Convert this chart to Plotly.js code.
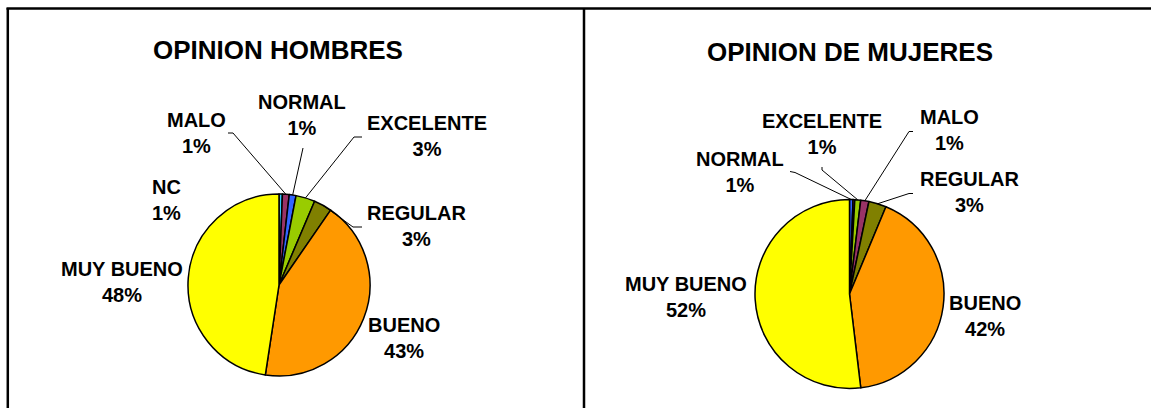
<!DOCTYPE html>
<html>
<head>
<meta charset="utf-8">
<script src="https://cdn.plot.ly/plotly-3.0.1.min.js"></script>
<style>html,body{margin:0;padding:0;background:#fff;}#chart{width:1151px;height:408px;}</style>
</head>
<body>
<div id="chart"></div>
<script>
// ---- data ----
const titleHombres = "OPINION HOMBRES";
const titleMujeres = "OPINION DE MUJERES";
const catsHombres = ["NC", "MALO", "NORMAL", "EXCELENTE", "REGULAR", "BUENO", "MUY BUENO"];
const valsHombres = [0.6, 1.2, 1.2, 3.4, 3.2, 42.8, 47.6];
const catsMujeres = ["NORMAL", "NC", "EXCELENTE", "MALO", "REGULAR", "BUENO", "MUY BUENO"];
const valsMujeres = [0.6, 0.3, 1.0, 1.4, 3.0, 41.8, 51.9];

// ---- styles / layout positions ----
const colHombres = ["#33CCFF", "#993366", "#3366FF", "#99CC00", "#808000", "#FF9900", "#FFFF00"];
const colMujeres = ["#3366FF", "#993366", "#99CC00", "#993366", "#808000", "#FF9900", "#FFFF00"];
const W = 1151, H = 408;
const FONT = "Liberation Sans, Arial, sans-serif";

const pieH = {cx: 279, cy: 285, r: 91};
const pieM = {cx: 849.5, cy: 294, r: 94.5};

// label centre positions (px) and leader-line elbows (from label side), null = no line/label
const labPosH = {
  "NC": {x: 166, y: 200, line: null},
  "MALO": {x: 196, y: 133, line: [[228, 133], [233, 133]]},
  "NORMAL": {x: 302, y: 115, line: [[303, 148]]},
  "EXCELENTE": {x: 427, y: 136, line: [[362, 137], [354, 137]]},
  "REGULAR": {x: 416, y: 226, line: [[362, 227], [353, 227]]},
  "BUENO": {x: 404, y: 338, line: null},
  "MUY BUENO": {x: 122, y: 282, line: null}
};
const labPosM = {
  "NORMAL": {x: 740, y: 172, line: [[790, 171.5], [795, 172.5]]},
  "NC": null,
  "EXCELENTE": {x: 822, y: 134, line: [[822, 167], [822, 170]]},
  "MALO": {x: 949, y: 130, line: [[913, 131.5], [909, 131.5]]},
  "REGULAR": {x: 969, y: 192, line: [[913, 193.5], [909, 193.5]]},
  "BUENO": {x: 985, y: 316, line: null},
  "MUY BUENO": {x: 686, y: 297, line: null}
};

function pieTrace(cats, vals, cols, p) {
  return {
    type: "pie", labels: cats, values: vals, sort: false, direction: "clockwise", rotation: 0,
    textinfo: "none", hoverinfo: "none",
    marker: {colors: cols, line: {color: "#000", width: 1.5}},
    domain: {x: [(p.cx - p.r) / W, (p.cx + p.r) / W], y: [1 - (p.cy + p.r) / H, 1 - (p.cy - p.r) / H]}
  };
}

const annotations = [];
const shapes = [];
function addLabels(cats, vals, p, pos) {
  const sum = vals.reduce((a, b) => a + b, 0);
  let cum = 0;
  cats.forEach((c, i) => {
    const mid = (cum + vals[i] / 2) / sum * 2 * Math.PI;
    cum += vals[i];
    const lp = pos[c];
    if (!lp) return;
    const pct = Math.round(vals[i] / sum * 100) + "%";
    annotations.push({
      x: lp.x, y: lp.y, xref: "x", yref: "y", showarrow: false,
      text: "<b>" + c + "</b><br><b>" + pct + "</b>",
      font: {family: FONT, size: 20, color: "#000"}, align: "center"
    });
    if (lp.line) {
      const ax = p.cx + p.r * Math.sin(mid), ay = p.cy - p.r * Math.cos(mid);
      let path = "M " + lp.line[0][0] + "," + lp.line[0][1];
      for (let k = 1; k < lp.line.length; k++) path += " L " + lp.line[k][0] + "," + lp.line[k][1];
      path += " L " + ax + "," + ay;
      shapes.push({type: "path", xref: "x", yref: "y", path: path, line: {color: "#000", width: 1}});
    }
  });
}
addLabels(catsHombres, valsHombres, pieH, labPosH);
addLabels(catsMujeres, valsMujeres, pieM, labPosM);

// titles
annotations.push({x: 278, y: 50, xref: "x", yref: "y", showarrow: false, text: "<b>" + titleHombres + "</b>",
  font: {family: FONT, size: 26, color: "#000"}});
annotations.push({x: 850, y: 52, xref: "x", yref: "y", showarrow: false, text: "<b>" + titleMujeres + "</b>",
  font: {family: FONT, size: 26, color: "#000"}});

// frame
shapes.push({type: "line", xref: "x", yref: "y", x0: 6.5, x1: 1151, y0: 8.5, y1: 8.5, line: {color: "#000", width: 2.5}});
shapes.push({type: "line", xref: "x", yref: "y", x0: 7.8, x1: 7.8, y0: 8, y1: 408, line: {color: "#000", width: 2.5}});
shapes.push({type: "line", xref: "x", yref: "y", x0: 584, x1: 584, y0: 8, y1: 408, line: {color: "#000", width: 2.5}});

const layout = {
  width: W, height: H, margin: {l: 0, r: 0, t: 0, b: 0},
  paper_bgcolor: "#fff", plot_bgcolor: "rgba(0,0,0,0)", showlegend: false, hovermode: false,
  xaxis: {range: [0, W], visible: false, fixedrange: true},
  yaxis: {range: [H, 0], visible: false, fixedrange: true},
  annotations: annotations, shapes: shapes
};

Plotly.newPlot("chart", [pieTrace(catsHombres, valsHombres, colHombres, pieH), pieTrace(catsMujeres, valsMujeres, colMujeres, pieM)], layout, {staticPlot: true, displayModeBar: false});
</script>
</body>
</html>
